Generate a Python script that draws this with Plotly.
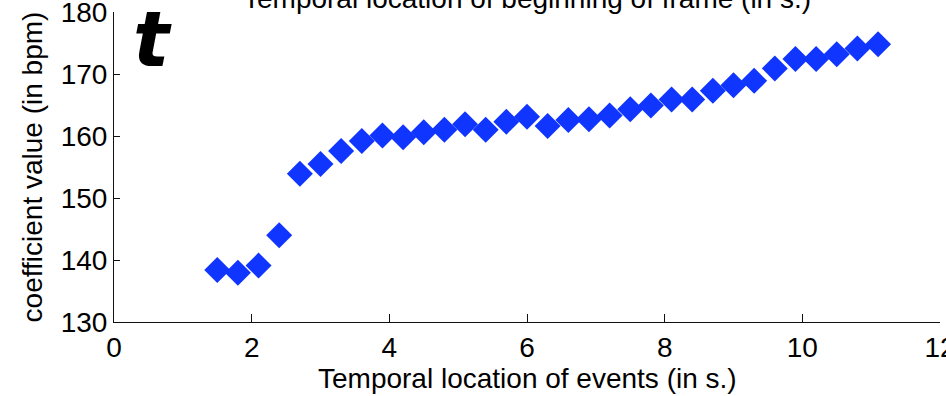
import plotly.graph_objects as go

# Event times (s) and estimated tempo coefficient (bpm)
event_times = [1.5, 1.8, 2.1, 2.4, 2.7, 3.0, 3.3, 3.6, 3.9, 4.2, 4.5, 4.8, 5.1, 5.4, 5.7,
               6.0, 6.3, 6.6, 6.9, 7.2, 7.5, 7.8, 8.1, 8.4, 8.7, 9.0, 9.3, 9.6, 9.9,
               10.2, 10.5, 10.8, 11.1]
coef_bpm = [138.4, 137.95, 139.1, 144.0, 153.9, 155.5, 157.6, 159.2, 160.1, 159.8, 160.6,
            161.0, 161.9, 161.0, 162.3, 163.1, 161.6, 162.6, 162.7, 163.3, 164.3, 164.9,
            165.9, 165.9, 167.3, 168.2, 168.9, 170.9, 172.4, 172.4, 173.2, 174.1, 174.8]

x_ticks = [0, 2, 4, 6, 8, 10, 12]
y_ticks = [130, 140, 150, 160, 170, 180]

FONT = "Liberation Sans, Arial, Helvetica, sans-serif"
FS = 28

fig = go.Figure()
fig.add_trace(go.Scatter(
    x=event_times, y=coef_bpm, mode="markers",
    marker=dict(symbol="diamond", size=20, color="#1035FF", line=dict(width=0)),
    cliponaxis=False, showlegend=False,
))

axis_common = dict(
    showgrid=False, zeroline=False, showline=True, linecolor="#111", linewidth=1,
    ticks="inside", tickcolor="#111", tickwidth=1, ticklabeloverflow="allow",
    tickfont=dict(family=FONT, size=FS, color="black"),
)

fig.update_xaxes(range=[0, 12], tickvals=x_ticks, ticklen=8, **axis_common)
fig.update_yaxes(range=[130, 180], tickvals=y_ticks, ticklen=6, **axis_common)

fig.update_layout(
    width=946, height=396,
    margin=dict(l=114, r=6, t=12, b=74, autoexpand=False),
    plot_bgcolor="white", paper_bgcolor="white",
    font=dict(family=FONT, size=FS, color="black"),
    annotations=[
        dict(text="Temporal location of events (in s.)", xref="paper", yref="paper",
             x=0.5, y=-0.181, xanchor="center", yanchor="middle", showarrow=False,
             font=dict(size=FS)),
        dict(text="coefficient value (in bpm)", xref="paper", yref="paper",
             x=-0.0988, y=0.5, xanchor="center", yanchor="middle", textangle=-90,
             showarrow=False, font=dict(size=FS)),
        dict(text="Temporal location of beginning of frame (in s.)", xref="paper", yref="paper",
             x=0.5, y=1.045, xanchor="center", yanchor="middle", showarrow=False,
             font=dict(size=FS)),
        dict(text="<b><i>t</i></b>", xref="paper", yref="paper",
             x=0.047, y=0.912, xanchor="center", yanchor="middle", showarrow=False,
             font=dict(size=76, family="DejaVu Sans, sans-serif")),
    ],
)

fig.write_html("out.html")
